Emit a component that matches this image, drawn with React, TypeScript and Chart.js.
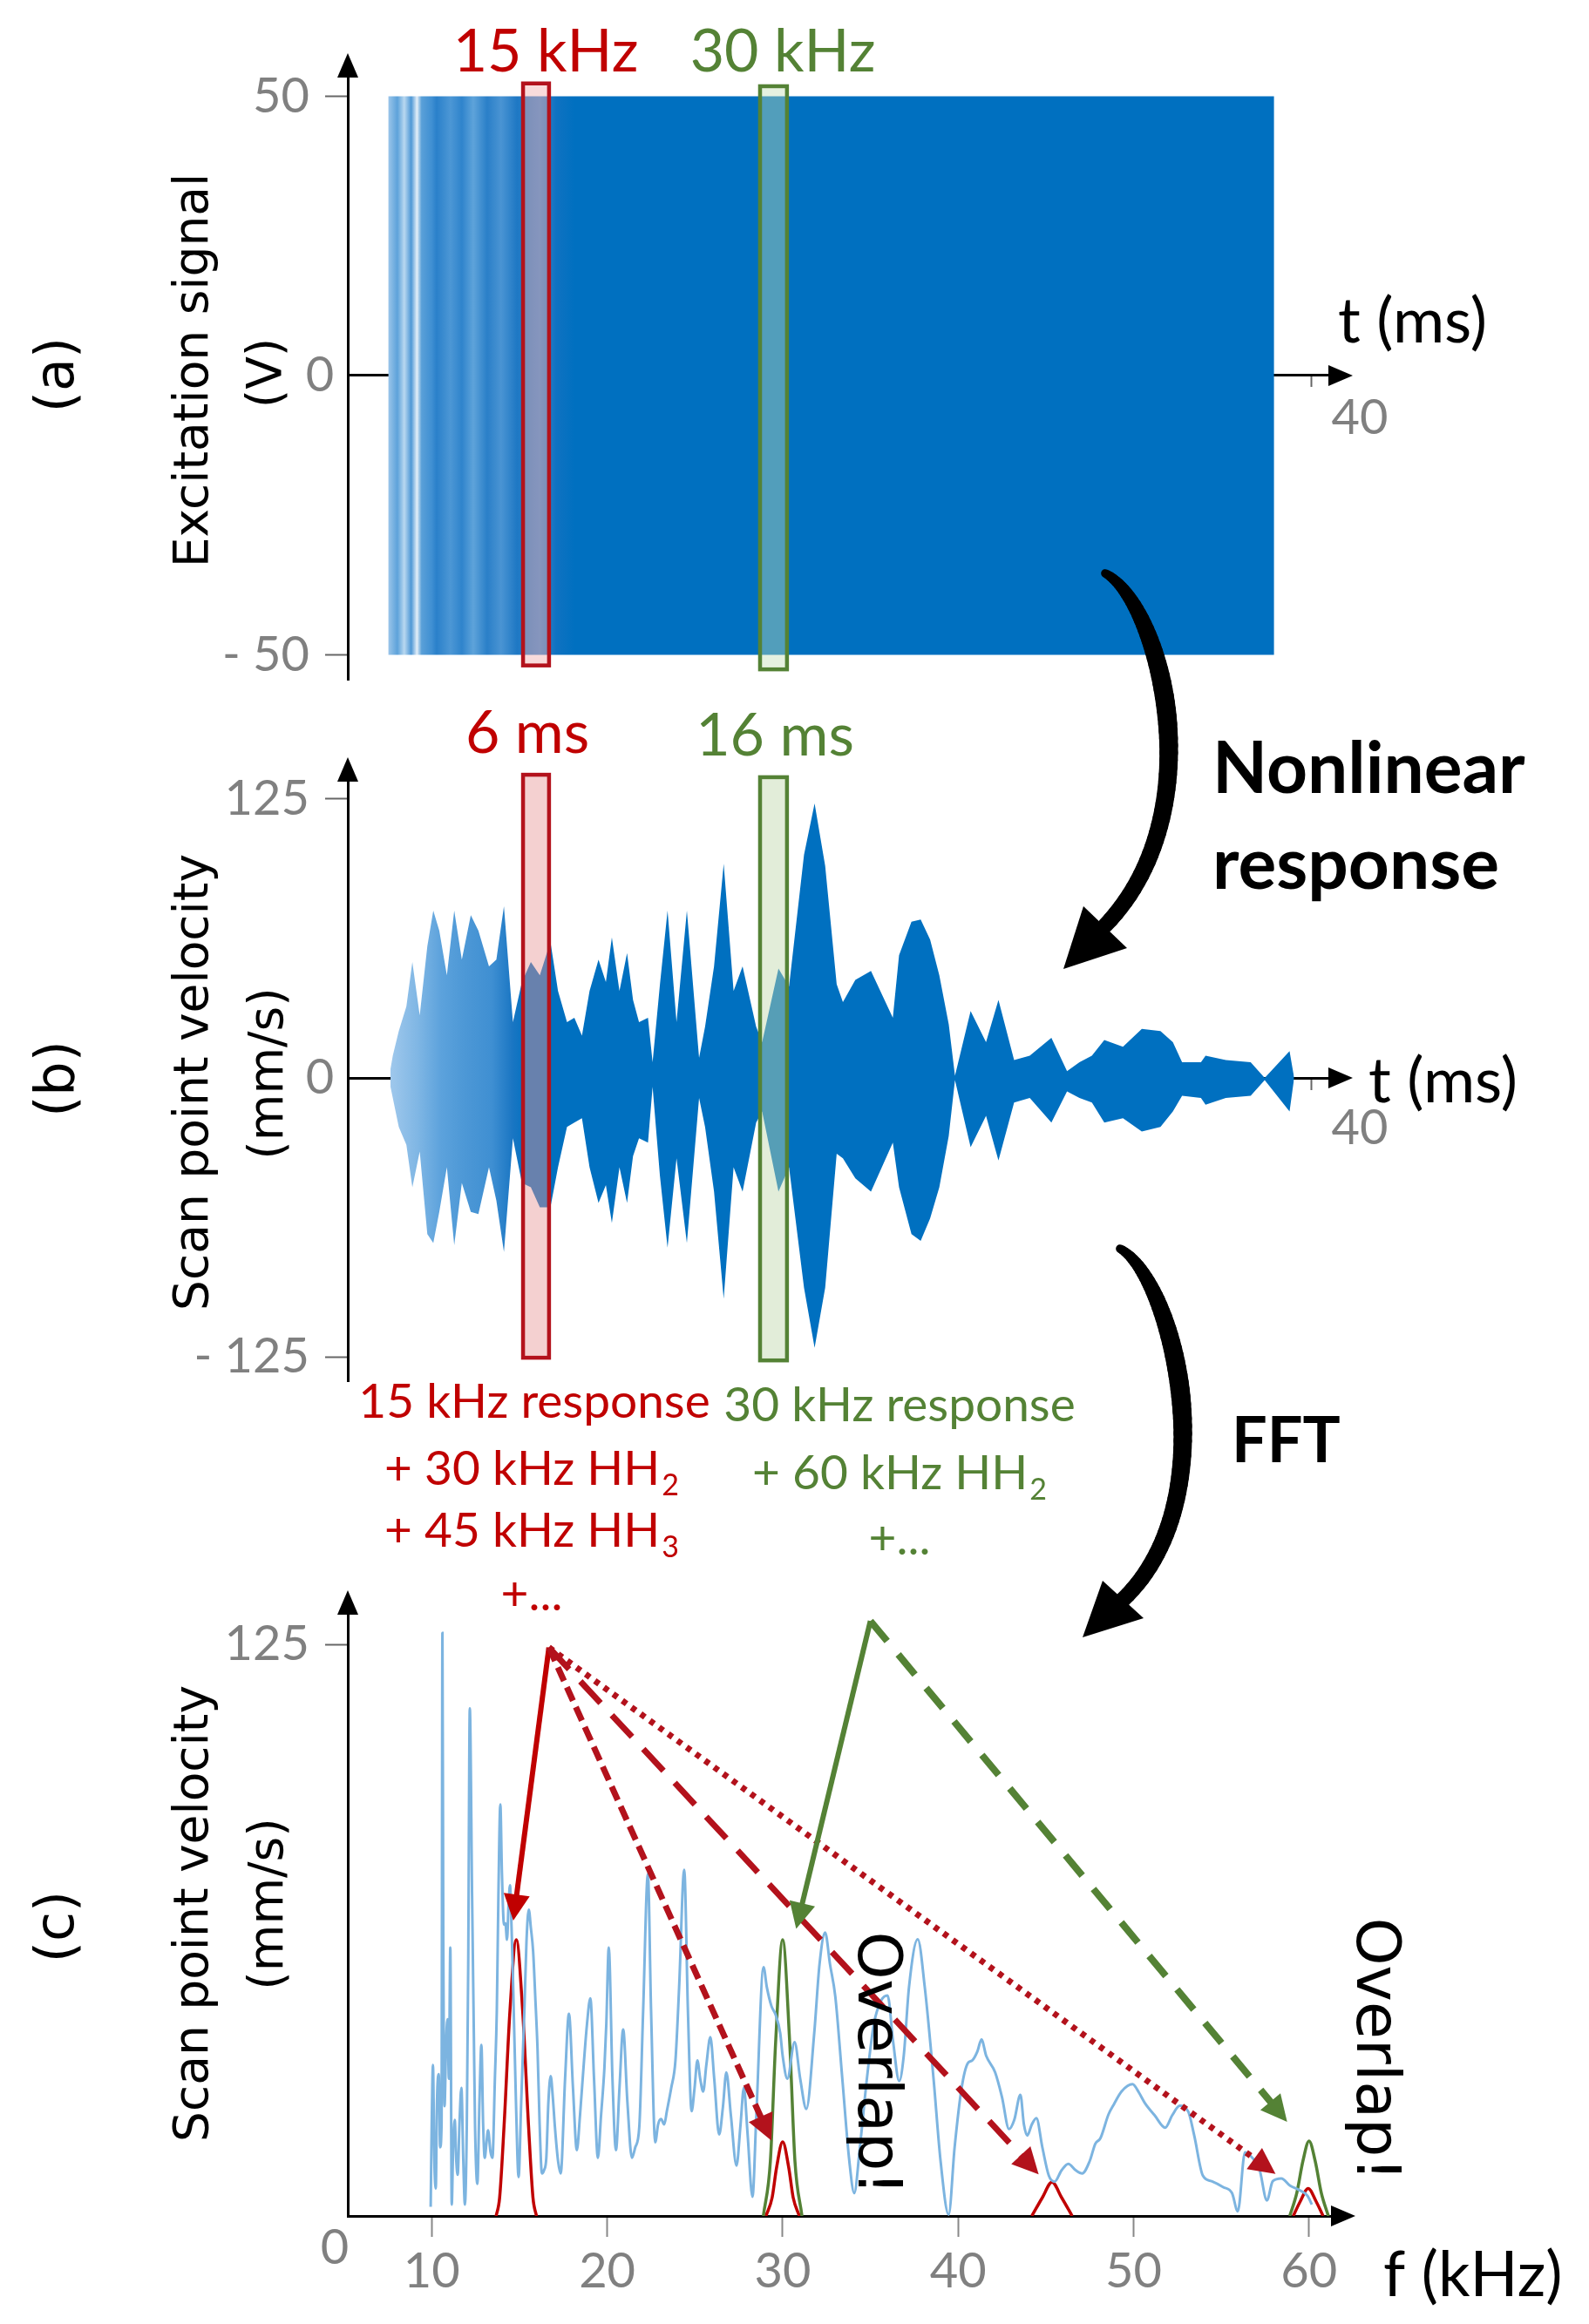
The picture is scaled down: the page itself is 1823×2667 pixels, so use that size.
import React, { useEffect, useRef } from 'react';
import { Chart, registerables } from 'chart.js';

Chart.register(...registerables);

const W = 1823;
const H = 2667;
const RED = '#c00000';
const RED_BOX = '#b3121c';
const GREEN = '#548235';
const BLUE = '#0070c0';
const SPEC_BLUE = '#7cb4e0';
const GRAY = '#808080';

// ---------- Panel (a): excitation chirp envelope ----------
const chirpTime = [-0.1, 38.4];
const chirpUpper = [50, 50];
const chirpLower = [-50, -50];
const excitationTicks = [-50, 0, 50];
const timeTicks = [40];

// ---------- Panel (b): scan point velocity envelope ----------
const velTime = [0, 0.1, 0.36, 0.69, 0.95, 1.27, 1.6, 1.86, 2.12, 2.45,
  2.77, 3.1, 3.49, 3.82, 4.28, 4.6, 4.93, 5.32, 5.71, 6.1,
  6.49, 6.95, 7.28, 7.67, 7.99, 8.32, 8.65, 9.04, 9.36, 9.62,
  9.95, 10.28, 10.54, 10.8, 11.19, 11.39, 11.71, 12.04, 12.43, 12.88,
  13.41, 13.67, 14.06, 14.48, 14.91, 15.3, 15.89, 16.15, 16.86, 17.32,
  17.97, 18.43, 18.89, 19.39, 19.66, 20.2, 20.88, 21.83, 22.1, 22.64,
  23.04, 23.45, 23.85, 24.26, 24.53, 25.21, 25.88, 26.42, 27.1, 27.78,
  28.72, 29.4, 29.94, 30.48, 31.02, 31.83, 32.65, 33.46, 34.0, 34.4,
  35.22, 35.42, 36.3, 37.38, 37.99, 39.07, 39.27];
const velUpper = [4, 10, 21, 32, 52, 28, 59, 75, 66, 46,
  75, 53, 73, 66, 50, 53, 77, 25, 43, 52,
  46, 61, 39, 25, 27, 19, 39, 53, 43, 63,
  39, 56, 35, 25, 27, 7, 42, 75, 25, 75,
  9, 23, 50, 96, 39, 50, 23, 16, 49, 41,
  100, 123, 95, 42, 34, 44, 48, 27, 55, 70,
  71, 62, 46, 24, 1, 30, 16, 35, 8, 10,
  18, 3, 7, 10, 17, 14, 22, 21, 16, 7,
  7, 10, 8, 7, 0, 12, 0];
const velLower = [-4, -9, -22, -30, -49, -33, -70, -74, -60, -40,
  -75, -47, -60, -61, -40, -55, -78, -27, -47, -49,
  -58, -58, -40, -22, -20, -18, -40, -56, -48, -65,
  -40, -56, -35, -27, -29, -4, -44, -76, -36, -74,
  -9, -22, -51, -99, -40, -51, -20, -15, -51, -40,
  -94, -121, -94, -34, -36, -45, -51, -29, -49, -70,
  -73, -63, -49, -26, -1, -31, -17, -37, -11, -9,
  -20, -6, -9, -11, -20, -18, -24, -22, -15, -8,
  -9, -12, -9, -8, -1, -15, 0];
const velocityTicks = [-125, 0, 125];

// highlighted time windows (ms)
const redWindow = [5.76, 6.89];
const greenWindow = [16.06, 17.23];

// ---------- Panel (c): spectrum [f (kHz), v (mm/s)] ----------
const spectrum = [
  [9.94, 2], [10.0, 20], [10.07, 33], [10.15, 12], [10.23, 6], [10.3, 25], [10.4, 31], [10.48, 15], [10.56, 20], [10.61, 127.5],
  [10.66, 60], [10.73, 24], [10.82, 38], [10.9, 43], [10.98, 30], [11.06, 58.7], [11.14, 2.5], [11.22, 15], [11.31, 21], [11.4, 12],
  [11.48, 9], [11.58, 20], [11.69, 28], [11.8, 12], [11.89, 2.5], [12.0, 20], [12.08, 55], [12.17, 111], [12.3, 70], [12.4, 40],
  [12.47, 19.5], [12.6, 7], [12.72, 25], [12.83, 37.4], [12.93, 20], [13.02, 12.7], [13.12, 16], [13.21, 18.7], [13.35, 14], [13.46, 12.7],
  [13.6, 30], [13.71, 45], [13.8, 70], [13.91, 90], [14.0, 75], [14.12, 63.7], [14.2, 64], [14.29, 60.4], [14.38, 68], [14.46, 72.3],
  [14.55, 63], [14.62, 53.5], [14.8, 25], [14.95, 8.5], [15.1, 25], [15.28, 45], [15.4, 60], [15.53, 67], [15.65, 63], [15.78, 57.8],
  [15.9, 48], [16.03, 36.5], [16.15, 20], [16.28, 9.3], [16.4, 10], [16.53, 12.7], [16.65, 25], [16.78, 30.6], [16.9, 26], [17.02, 19.5],
  [17.2, 12], [17.35, 9.3], [17.6, 30], [17.82, 44.2], [18.05, 28], [18.27, 14.4], [18.45, 22], [18.68, 34], [18.85, 42], [19.04, 47.6],
  [19.25, 30], [19.47, 12.7], [19.65, 22], [19.84, 32.3], [19.95, 42], [20.09, 58.7], [20.3, 30], [20.5, 14.4], [20.7, 28], [20.91, 40.8],
  [21.15, 25], [21.41, 12.7], [21.6, 15], [21.83, 19.5], [22.05, 45], [22.32, 74.8], [22.5, 45], [22.74, 16.1], [22.9, 20], [23.07, 21.2],
  [23.25, 20], [23.4, 22.9], [23.65, 28], [23.89, 34], [24.1, 50], [24.39, 75.7], [24.6, 45], [24.81, 22.9], [24.98, 28], [25.14, 34],
  [25.3, 30], [25.47, 27.2], [25.65, 33], [25.88, 39.1], [26.1, 30], [26.38, 17.8], [26.6, 24], [26.79, 31.4], [27.05, 22], [27.37, 11],
  [27.6, 20], [27.79, 28], [28.0, 18], [28.28, 4.2], [28.5, 22], [28.91, 54.4], [29.1, 50], [29.36, 45.9], [29.6, 44], [29.86, 40],
  [30.0, 35], [30.27, 30], [30.68, 38], [31.0, 30], [31.35, 23.4], [31.8, 40], [32.1, 55], [32.42, 62], [32.7, 55], [33.0, 48],
  [33.4, 30], [33.8, 12], [34.08, 5], [34.4, 15], [34.8, 30], [35.2, 42], [35.6, 47], [35.98, 48.2], [36.3, 38], [36.64, 29.5],
  [36.9, 35], [37.2, 50], [37.7, 60.5], [38.1, 50], [38.6, 30], [39.0, 12], [39.46, 0.3], [39.8, 15], [40.2, 28], [40.55, 33.4],
  [40.8, 34], [41.1, 36], [41.33, 38.6], [41.6, 35], [42.11, 31.4], [42.5, 26], [42.9, 19], [43.2, 21], [43.55, 26.5], [43.75, 20],
  [43.94, 17.6], [44.2, 20], [44.46, 21.4], [44.8, 15], [45.17, 8.8], [45.5, 7.5], [45.9, 10], [46.28, 11.4], [46.7, 10], [47.07, 9.3],
  [47.5, 12], [47.82, 15.8], [48.11, 17], [48.57, 22.2], [48.89, 24.5], [49.31, 27.2], [49.94, 28.8], [50.3, 27], [50.64, 24.7], [51.2, 22],
  [51.8, 19.3], [52.2, 22], [52.63, 24.1], [53.12, 22.8], [53.45, 17.7], [53.95, 8.8], [54.45, 7.6], [55.11, 6.3], [55.61, 5], [55.94, 1],
  [56.35, 13.9], [56.77, 12.7], [57.18, 10.1], [57.6, 3.4], [57.93, 7.6], [58.42, 8.2], [58.92, 6.6], [59.42, 5.7], [59.91, 4.4], [60.16, 2.5],
];
// isolated responses
const red15 = [[13.67, 0], [13.87, 4], [14.12, 19.5], [14.46, 45], [14.82, 60.4], [15.18, 45], [15.52, 19.5], [15.77, 4], [15.97, 0]];
const red30 = [[29.05, 0], [29.4, 4], [29.65, 10.5], [30.0, 16.2], [30.35, 10.5], [30.6, 4], [30.95, 0]];
const red45 = [[44.2, 0], [44.8, 4], [45.35, 7.4], [45.9, 4], [46.5, 0]];
const red60 = [[59.1, 0], [59.5, 3.2], [59.95, 6], [60.4, 3.2], [60.8, 0]];
const green30 = [[28.9, 0], [29.3, 12], [29.6, 38], [30.0, 60.4], [30.4, 38], [30.7, 12], [31.1, 0]];
const green60 = [[58.9, 0], [59.3, 5], [59.65, 12], [60.0, 16.4], [60.35, 12], [60.7, 5], [61.1, 0]];
const freqTicks = [10, 20, 30, 40, 50, 60];
const spectrumTicks = [125];

// harmonic arrows (data units: f, v)
const redOrigin = [16.68, 124.3];
const greenOrigin = [35.0, 130.1];
const redTargets = [[14.65, 64.6], [29.36, 16.5], [44.59, 9.1], [58.09, 9.2]];
const greenTargets = [[30.77, 62.8], [58.75, 20.6]];

// ---------- axis geometry ----------
const T_MIN = -1.856, T_MAX = 40.795;
const A_MIN = -54.45, A_MAX = 53.51;
const B_MIN = -135.9, B_MAX = 133.2;
const F_MIN = 5.216, F_MAX = 61.3;
const C_MAX = 131.67;

const tickFont = { family: 'Lato', size: 56 };

const pts = (xs: number[], ys: number[]) => xs.map((x, i) => ({ x, y: ys[i] }));
const pairPts = (arr: number[][]) => arr.map((p) => ({ x: p[0], y: p[1] }));

function yAxis(min: number, max: number, ticks: number[]) {
  return {
    type: 'linear',
    position: 'left',
    min,
    max,
    afterFit: (s: any) => { s.width = 399; },
    afterBuildTicks: (s: any) => { s.ticks = ticks.map((v) => ({ value: v })); },
    grid: {
      drawOnChartArea: false,
      drawTicks: true,
      tickLength: 26,
      tickWidth: 2,
      color: (c: any) => (c.tick && c.tick.value === 0 ? 'rgba(0,0,0,0)' : '#666'),
    },
    border: { display: true, color: '#000', width: 3 },
    ticks: {
      color: GRAY,
      font: tickFont,
      padding: 18,
      // the zero label sits right against the axis; it is drawn by the decor plugin
      callback: (v: number) => (v === 0 ? '' : v < 0 ? '- ' + Math.abs(v) : String(v)),
    },
  };
}

function timeAxis(pad: number) {
  return {
    type: 'linear',
    min: T_MIN,
    max: T_MAX,
    position: { y: 0 },
    afterFit: (s: any) => { s.height = 0; },
    afterBuildTicks: (s: any) => { s.ticks = timeTicks.map((v) => ({ value: v })); },
    grid: { drawOnChartArea: false, drawTicks: true, tickLength: 12, tickWidth: 2, color: '#666' },
    border: { display: true, color: '#000', width: 3 },
    ticks: { color: GRAY, font: tickFont, padding: pad, labelOffset: 56, maxRotation: 0, autoSkip: false },
  };
}

function txt(ctx: CanvasRenderingContext2D, s: string, x: number, y: number, font: string, color: string,
  align: CanvasTextAlign = 'center', baseline: CanvasTextBaseline = 'alphabetic', rot = 0) {
  ctx.save();
  ctx.translate(x, y);
  if (rot) ctx.rotate(rot);
  ctx.font = font;
  ctx.fillStyle = color;
  ctx.textAlign = align;
  ctx.textBaseline = baseline;
  ctx.fillText(s, 0, 0);
  ctx.restore();
}

function subTxt(ctx: CanvasRenderingContext2D, main: string, sub: string, cx: number, y: number, size: number, color: string) {
  ctx.save();
  const f1 = `${size}px Lato`;
  const f2 = `${Math.round(size * 0.62)}px Lato`;
  ctx.font = f1;
  const w1 = ctx.measureText(main).width;
  ctx.font = f2;
  const w2 = ctx.measureText(sub).width;
  const x0 = cx - (w1 + w2 + 2) / 2;
  ctx.fillStyle = color;
  ctx.textAlign = 'left';
  ctx.textBaseline = 'alphabetic';
  ctx.font = f1;
  ctx.fillText(main, x0, y);
  ctx.font = f2;
  ctx.fillText(sub, x0 + w1 + 2, y + size * 0.22);
  ctx.restore();
}

function windowBox(ctx: CanvasRenderingContext2D, xs: any, ys: any, win: number[], vr: number[], stroke: string, fill: string) {
  const x0 = xs.getPixelForValue(win[0]);
  const x1 = xs.getPixelForValue(win[1]);
  const y0 = ys.getPixelForValue(vr[0]);
  const y1 = ys.getPixelForValue(vr[1]);
  ctx.save();
  ctx.fillStyle = fill;
  ctx.fillRect(x0, y0, x1 - x0, y1 - y0);
  ctx.strokeStyle = stroke;
  ctx.lineWidth = 4.5;
  ctx.strokeRect(x0, y0, x1 - x0, y1 - y0);
  ctx.restore();
}

function axisArrows(ctx: CanvasRenderingContext2D, area: any, yZero: number) {
  ctx.save();
  ctx.fillStyle = '#000';
  ctx.beginPath();
  ctx.moveTo(area.left, area.top - 27);
  ctx.lineTo(area.left - 12, area.top + 1);
  ctx.lineTo(area.left + 12, area.top + 1);
  ctx.closePath();
  ctx.fill();
  ctx.beginPath();
  ctx.moveTo(area.right + 27, yZero);
  ctx.lineTo(area.right - 1, yZero - 12);
  ctx.lineTo(area.right - 1, yZero + 12);
  ctx.closePath();
  ctx.fill();
  ctx.restore();
}

function zeroLabel(ctx: CanvasRenderingContext2D, ys: any) {
  txt(ctx, '0', 367, ys.getPixelForValue(0), '56px Lato', GRAY, 'center', 'middle');
}

type P = [number, number];
function bez(p0: P, p1: P, p2: P, p3: P, t: number): P {
  const u = 1 - t;
  return [
    u * u * u * p0[0] + 3 * u * u * t * p1[0] + 3 * u * t * t * p2[0] + t * t * t * p3[0],
    u * u * u * p0[1] + 3 * u * u * t * p1[1] + 3 * u * t * t * p2[1] + t * t * t * p3[1],
  ];
}

function curvedArrow(ctx: CanvasRenderingContext2D, p0: P, p1: P, p2: P, p3: P, tip: P, w1: P, w2: P) {
  ctx.save();
  ctx.strokeStyle = '#000';
  ctx.fillStyle = '#000';
  ctx.lineCap = 'round';
  const N = 60;
  let prev = p0;
  for (let i = 1; i <= N; i++) {
    const t = i / N;
    const pt = bez(p0, p1, p2, p3, t);
    ctx.lineWidth = t <= 0.5 ? 9 + 13 * Math.sin(Math.PI * t) : 22 - 8 * (t - 0.5);
    ctx.beginPath();
    ctx.moveTo(prev[0], prev[1]);
    ctx.lineTo(pt[0], pt[1]);
    ctx.stroke();
    prev = pt;
  }
  ctx.beginPath();
  ctx.moveTo(tip[0], tip[1]);
  ctx.lineTo(w1[0], w1[1]);
  ctx.lineTo(w2[0], w2[1]);
  ctx.closePath();
  ctx.fill();
  ctx.restore();
}

function dataArrow(ctx: CanvasRenderingContext2D, xs: any, ys: any, from: number[], to: number[], color: string,
  width: number, dash: number[]) {
  const x0 = xs.getPixelForValue(from[0]);
  const y0 = ys.getPixelForValue(from[1]);
  const x1 = xs.getPixelForValue(to[0]);
  const y1 = ys.getPixelForValue(to[1]);
  const ang = Math.atan2(y1 - y0, x1 - x0);
  const hl = 30, hw = 15;
  const bx = x1 - Math.cos(ang) * hl;
  const by = y1 - Math.sin(ang) * hl;
  ctx.save();
  ctx.strokeStyle = color;
  ctx.lineWidth = width;
  ctx.lineCap = 'butt';
  ctx.lineJoin = 'miter';
  ctx.setLineDash(dash);
  ctx.beginPath();
  ctx.moveTo(x0, y0);
  ctx.lineTo(bx + Math.cos(ang) * 4, by + Math.sin(ang) * 4);
  ctx.stroke();
  ctx.setLineDash([]);
  ctx.fillStyle = color;
  ctx.beginPath();
  ctx.moveTo(x1, y1);
  ctx.lineTo(bx + Math.sin(ang) * hw, by - Math.cos(ang) * hw);
  ctx.lineTo(bx - Math.sin(ang) * hw, by + Math.cos(ang) * hw);
  ctx.closePath();
  ctx.fill();
  ctx.restore();
}

function gradientFill(stops: [number, string][], t0: number, t1: number) {
  return (c: any) => {
    const chart = c.chart;
    if (!chart.chartArea) return BLUE;
    const xs = chart.scales.x;
    const x0 = xs.getPixelForValue(t0);
    const x1 = xs.getPixelForValue(t1);
    const g = chart.ctx.createLinearGradient(x0, 0, x1, 0);
    stops.forEach(([t, col]) => g.addColorStop(Math.min(1, Math.max(0, (t - t0) / (t1 - t0))), col));
    return g;
  };
}

const chirpStops: [number, string][] = [
  [-0.1, '#9cc6ea'], [0.3, '#5da2da'], [0.6, '#b9d8f0'], [0.9, '#4f98d6'], [1.15, '#e3eef8'], [1.35, '#5aa0d8'],
  [1.8, '#3f8fd2'], [2.0, '#2a80ca'], [2.6, '#4c97d5'], [3.1, '#2f84cc'], [3.6, '#5ea3da'], [4.2, '#2a7fc8'],
  [4.8, '#4a94d3'], [5.5, '#1e78c4'], [6.5, '#3a88cc'], [7.2, '#0f72c1'], [8.0, BLUE],
];
const velStops: [number, string][] = [
  [0, '#9fc8ec'], [1.2, '#7fb6e4'], [2.2, '#5ca2dc'], [3.2, '#4d98d6'], [4.4, '#3f8fd2'], [5.3, '#1a76c3'], [6.0, BLUE],
];

const baseOptions = {
  responsive: false,
  maintainAspectRatio: false,
  animation: false,
  devicePixelRatio: 1,
  events: [],
  plugins: { legend: { display: false }, tooltip: { enabled: false } },
  elements: { point: { radius: 0 } },
};

const TITLE_FONT = '55px "DejaVu Sans"';
const LETTER_FONT = '62px "DejaVu Sans"';
const AXIS_NAME_FONT = '72px Lato';
const HEAD_FONT = '68px Lato';

const decorA = {
  id: 'decorA',
  afterDraw(chart: any) {
    const { ctx, chartArea } = chart;
    const { x, y } = chart.scales;
    windowBox(ctx, x, y, redWindow, [52.3, -51.9], RED_BOX, 'rgba(240,170,170,0.42)');
    windowBox(ctx, x, y, greenWindow, [51.8, -52.6], GREEN, 'rgba(195,222,180,0.42)');
    axisArrows(ctx, chartArea, y.getPixelForValue(0));
    zeroLabel(ctx, y);
    txt(ctx, '15 kHz', 626, 82, HEAD_FONT, RED);
    txt(ctx, '30 kHz', 898, 82, HEAD_FONT, GREEN);
    txt(ctx, 't (ms)', 1535, 370, AXIS_NAME_FONT, '#000', 'left', 'middle');
    txt(ctx, '(a)', 68, 430, LETTER_FONT, '#000', 'center', 'middle', -Math.PI / 2);
    txt(ctx, 'Excitation signal', 224, 425, TITLE_FONT, '#000', 'center', 'middle', -Math.PI / 2);
    txt(ctx, '(V)', 308, 428, TITLE_FONT, '#000', 'center', 'middle', -Math.PI / 2);
  },
};

const decorB = {
  id: 'decorB',
  afterDraw(chart: any) {
    const { ctx, chartArea } = chart;
    const { x, y } = chart.scales;
    windowBox(ctx, x, y, redWindow, [135.9, -125.4], RED_BOX, 'rgba(230,150,150,0.45)');
    windowBox(ctx, x, y, greenWindow, [134.8, -126.6], GREEN, 'rgba(190,215,170,0.45)');
    axisArrows(ctx, chartArea, y.getPixelForValue(0));
    zeroLabel(ctx, y);
    txt(ctx, '6 ms', 605, 864, HEAD_FONT, RED);
    txt(ctx, '16 ms', 889, 867, HEAD_FONT, GREEN);
    txt(ctx, 't (ms)', 1570, 1242, AXIS_NAME_FONT, '#000', 'left', 'middle');
    txt(ctx, '(b)', 68, 1238, LETTER_FONT, '#000', 'center', 'middle', -Math.PI / 2);
    txt(ctx, 'Scan point velocity', 224, 1242, TITLE_FONT, '#000', 'center', 'middle', -Math.PI / 2);
    txt(ctx, '(mm/s)', 310, 1232, TITLE_FONT, '#000', 'center', 'middle', -Math.PI / 2);
    txt(ctx, 'Nonlinear', 1391, 910, 'bold 82px Lato', '#000', 'left');
    txt(ctx, 'response', 1391, 1020, 'bold 82px Lato', '#000', 'left');
    curvedArrow(ctx, [1268, 658], [1330, 690], [1395, 930], [1268, 1062], [1220, 1112], [1243, 1040], [1293, 1088]);
  },
};

const decorC = {
  id: 'decorC',
  afterDraw(chart: any) {
    const { ctx, chartArea } = chart;
    const { x, y } = chart.scales;
    axisArrows(ctx, chartArea, y.getPixelForValue(0));
    txt(ctx, '0', 384, y.getPixelForValue(0) + 37, '56px Lato', GRAY, 'center', 'middle');
    txt(ctx, 'f (kHz)', 1587, 2612, AXIS_NAME_FONT, '#000', 'left', 'middle');
    txt(ctx, '(c)', 68, 2211, LETTER_FONT, '#000', 'center', 'middle', -Math.PI / 2);
    txt(ctx, 'Scan point velocity', 224, 2196, TITLE_FONT, '#000', 'center', 'middle', -Math.PI / 2);
    txt(ctx, '(mm/s)', 310, 2185, TITLE_FONT, '#000', 'center', 'middle', -Math.PI / 2);

    // response descriptions
    txt(ctx, '15 kHz response', 613, 1627, '55px Lato', RED);
    subTxt(ctx, '+ 30 kHz HH', '2', 610, 1704, 55, RED);
    subTxt(ctx, '+ 45 kHz HH', '3', 610, 1775, 55, RED);
    txt(ctx, '+...', 610, 1848, '55px Lato', RED);
    txt(ctx, '30 kHz response', 1032, 1631, '55px Lato', GREEN);
    subTxt(ctx, '+ 60 kHz HH', '2', 1032, 1709, 55, GREEN);
    txt(ctx, '+...', 1032, 1784, '55px Lato', GREEN);

    txt(ctx, 'FFT', 1413, 1678, 'bold 72px Lato', '#000', 'left');
    curvedArrow(ctx, [1285, 1433], [1345, 1465], [1410, 1720], [1288, 1836], [1242, 1879], [1265, 1814], [1312, 1857]);

    // harmonic arrows
    dataArrow(ctx, x, y, redOrigin, redTargets[0], RED, 6, []);
    dataArrow(ctx, x, y, redOrigin, redTargets[1], RED_BOX, 7, [17, 8]);
    dataArrow(ctx, x, y, redOrigin, redTargets[2], RED_BOX, 7, [34, 19]);
    dataArrow(ctx, x, y, redOrigin, redTargets[3], RED_BOX, 7, [6, 7]);
    dataArrow(ctx, x, y, greenOrigin, greenTargets[0], GREEN, 6, []);
    dataArrow(ctx, x, y, greenOrigin, greenTargets[1], GREEN, 8, [30, 20]);

    txt(ctx, 'Overlap!', 1003, 2368, '70px "DejaVu Sans"', '#000', 'center', 'middle', Math.PI / 2);
    txt(ctx, 'Overlap!', 1575, 2352, '70px "DejaVu Sans"', '#000', 'center', 'middle', Math.PI / 2);
  },
};

function cfgA(): any {
  return {
    type: 'line',
    data: {
      datasets: [
        { data: pts(chirpTime, chirpUpper), borderWidth: 0, borderColor: 'rgba(0,0,0,0)', fill: '+1', backgroundColor: gradientFill(chirpStops, -0.1, 8) },
        { data: pts(chirpTime, chirpLower), borderWidth: 0, borderColor: 'rgba(0,0,0,0)', fill: false },
      ],
    },
    options: {
      ...baseOptions,
      layout: { padding: { left: 0, top: 88, right: W - 1525, bottom: H - 780 } },
      scales: { x: timeAxis(3), y: yAxis(A_MIN, A_MAX, excitationTicks) },
    },
    plugins: [decorA],
  };
}

function cfgB(): any {
  return {
    type: 'line',
    data: {
      datasets: [
        { data: pts(velTime, velUpper), borderWidth: 0, borderColor: 'rgba(0,0,0,0)', fill: '+1', backgroundColor: gradientFill(velStops, 0, 6) },
        { data: pts(velTime, velLower), borderWidth: 0, borderColor: 'rgba(0,0,0,0)', fill: false },
      ],
    },
    options: {
      ...baseOptions,
      layout: { padding: { left: 0, top: 896, right: W - 1525, bottom: H - 1585 } },
      scales: { x: timeAxis(12), y: yAxis(B_MIN, B_MAX, velocityTicks) },
    },
    plugins: [decorB],
  };
}

function peakSet(arr: number[][], color: string) {
  return { data: pairPts(arr), borderColor: color, borderWidth: 3.5, fill: false, cubicInterpolationMode: 'monotone' };
}

function cfgC(): any {
  return {
    type: 'line',
    data: {
      datasets: [
        { data: pairPts(spectrum), borderColor: SPEC_BLUE, borderWidth: 3, fill: false, cubicInterpolationMode: 'monotone' },
        peakSet(green30, GREEN),
        peakSet(green60, GREEN),
        peakSet(red15, RED),
        peakSet(red30, RED),
        peakSet(red45, RED),
        peakSet(red60, RED),
      ],
    },
    options: {
      ...baseOptions,
      layout: { padding: { left: 0, top: 1852, right: W - 1528, bottom: 0 } },
      scales: {
        x: {
          type: 'linear',
          position: 'bottom',
          min: F_MIN,
          max: F_MAX,
          afterFit: (s: any) => { s.height = H - 2543; },
          afterBuildTicks: (s: any) => { s.ticks = freqTicks.map((v) => ({ value: v })); },
          grid: { drawOnChartArea: false, drawTicks: true, tickLength: 24, tickWidth: 2, color: '#888' },
          border: { display: true, color: '#000', width: 3 },
          ticks: { color: GRAY, font: tickFont, padding: 6, maxRotation: 0, autoSkip: false },
        },
        y: yAxis(0, C_MAX, spectrumTicks),
      },
    },
    plugins: [decorC],
  };
}

export default function App() {
  const aRef = useRef<HTMLCanvasElement>(null);
  const bRef = useRef<HTMLCanvasElement>(null);
  const cRef = useRef<HTMLCanvasElement>(null);

  useEffect(() => {
    let charts: Chart[] = [];
    let cancelled = false;
    const build = () => {
      if (cancelled || !aRef.current || !bRef.current || !cRef.current) return;
      Chart.defaults.font.family = 'Lato';
      charts = [
        new Chart(aRef.current, cfgA()),
        new Chart(bRef.current, cfgB()),
        new Chart(cRef.current, cfgC()),
      ];
    };
    const fonts: any = (document as any).fonts;
    if (fonts && fonts.load) {
      Promise.all([
        fonts.load('56px Lato'),
        fonts.load('bold 80px Lato'),
        fonts.load('55px "DejaVu Sans"'),
      ]).then(build, build);
    } else {
      build();
    }
    return () => {
      cancelled = true;
      charts.forEach((c) => c.destroy());
      charts = [];
    };
  }, []);

  const cs: React.CSSProperties = { position: 'absolute', left: 0, top: 0, width: W, height: H, pointerEvents: 'none' };
  return (
    <div style={{ position: 'absolute', left: 0, top: 0, width: W, height: H, background: '#fff', overflow: 'hidden' }}>
      <canvas ref={aRef} width={W} height={H} style={cs} />
      <canvas ref={bRef} width={W} height={H} style={cs} />
      <canvas ref={cRef} width={W} height={H} style={cs} />
    </div>
  );
}
